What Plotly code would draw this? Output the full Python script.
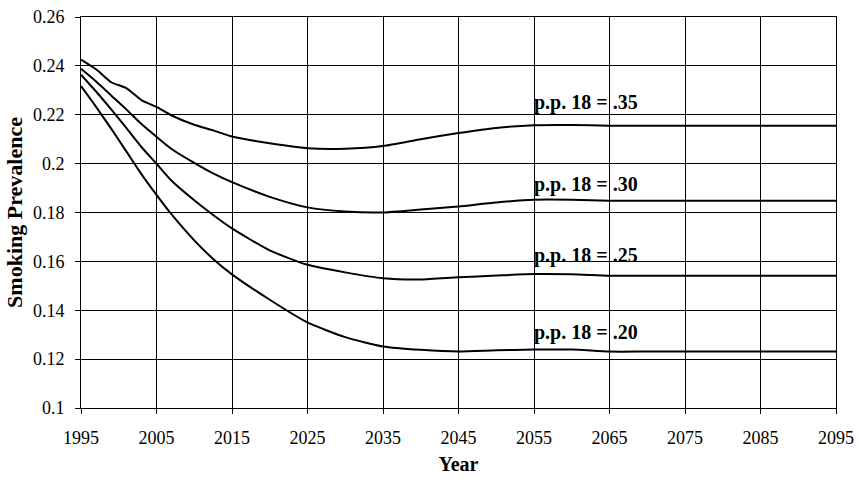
import plotly.graph_objects as go

years = [1995, 1997, 1999, 2001, 2003, 2005, 2007, 2010, 2012.5, 2015, 2020, 2025, 2030, 2035,
         2040, 2045, 2050, 2055, 2060, 2065, 2070, 2080, 2090, 2095]

pp35 = [0.2426, 0.2386, 0.2333, 0.2309, 0.2260, 0.2232, 0.2197, 0.2159, 0.2136, 0.2111, 0.2083, 0.2063,
        0.2061, 0.2072, 0.2100, 0.2125, 0.2146, 0.2157, 0.2158, 0.2155, 0.2155, 0.2155, 0.2155, 0.2155]
pp30 = [0.2388, 0.2336, 0.2279, 0.2222, 0.2162, 0.2110, 0.2060, 0.2003, 0.1960, 0.1924, 0.1864, 0.1821,
        0.1804, 0.1800, 0.1812, 0.1825, 0.1841, 0.1852, 0.1852, 0.1848, 0.1848, 0.1848, 0.1848, 0.1848]
pp25 = [0.2364, 0.2295, 0.2222, 0.2146, 0.2068, 0.2000, 0.1930, 0.1850, 0.1790, 0.1735, 0.1645, 0.1586,
        0.1555, 0.1531, 0.1526, 0.1535, 0.1542, 0.1548, 0.1547, 0.1541, 0.1541, 0.1541, 0.1541, 0.1541]
pp20 = [0.2317, 0.2232, 0.2143, 0.2050, 0.1957, 0.1872, 0.1792, 0.1686, 0.1610, 0.1547, 0.1443, 0.1350,
        0.1290, 0.1252, 0.1238, 0.1231, 0.1236, 0.1239, 0.1239, 0.1231, 0.1231, 0.1231, 0.1231, 0.1231]

series = [pp35, pp30, pp25, pp20]
labels = ["p.p. 18 = .35", "p.p. 18 = .30", "p.p. 18 = .25", "p.p. 18 = .20"]
label_y = [0.2249, 0.1913, 0.1626, 0.1310]
label_x = 2055

xticks = list(range(1995, 2096, 10))
yticks = [0.1, 0.12, 0.14, 0.16, 0.18, 0.2, 0.22, 0.24, 0.26]
ytick_text = ["0.1", "0.12", "0.14", "0.16", "0.18", "0.2", "0.22", "0.24", "0.26"]

FONT = "Liberation Serif"

fig = go.Figure()
for s in series:
    fig.add_trace(go.Scatter(x=years, y=s, mode="lines",
                             line=dict(color="black", width=2, shape="spline", smoothing=0.6),
                             showlegend=False, hoverinfo="skip"))

for t, yv in zip(labels, label_y):
    fig.add_annotation(x=label_x, y=yv, xref="x", yref="y", text="<b>" + t + "</b>",
                       showarrow=False, xanchor="left", yanchor="middle", xshift=-2,
                       font=dict(family=FONT, size=20, color="black"))

fig.update_layout(
    width=859, height=485,
    margin=dict(l=81, r=23, t=17, b=77),
    paper_bgcolor="white", plot_bgcolor="white",
    font=dict(family=FONT, size=18, color="black"),
    xaxis=dict(range=[1995, 2095], tickvals=xticks, showgrid=True, gridcolor="black",
               gridwidth=1, showline=True, linecolor="black", linewidth=1, mirror=True,
               ticks="outside", ticklen=5, tickcolor="black", ticklabelstandoff=8,
               zeroline=False, automargin=False, tickfont=dict(family=FONT, size=18),
               title=dict(text="<b>Year</b>", font=dict(family=FONT, size=20), standoff=10)),
    yaxis=dict(range=[0.1, 0.26], tickvals=yticks, ticktext=ytick_text, showgrid=True,
               gridcolor="black", gridwidth=1, showline=True, linecolor="black", linewidth=1,
               mirror=True, ticks="outside", ticklen=5, tickcolor="black",
               ticklabelstandoff=7, zeroline=False, automargin=False,
               tickfont=dict(family=FONT, size=18),
               title=dict(text="<b>Smoking Prevalence</b>", font=dict(family=FONT, size=22),
                          standoff=4)),
)

fig.write_html("out.html")
